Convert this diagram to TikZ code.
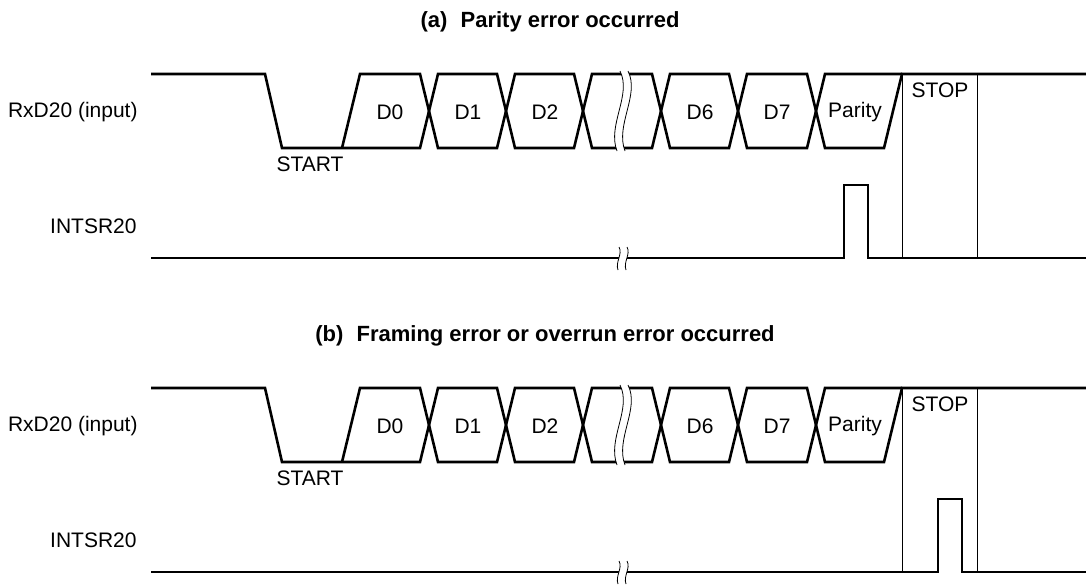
\documentclass[tikz,border=0pt]{standalone}
\usepackage{fontspec}
\setmainfont{Liberation Sans}

\begin{document}
\begin{tikzpicture}[x=0.5pt, y=-0.5pt,
      sig/.style={line width=1.3pt},
      thn/.style={line width=0.5pt},
      brk/.style={line width=0.4pt},
      lbl/.style={font=\fontsize{10.5}{12}\selectfont, inner sep=0pt},
      ttl/.style={font=\fontsize{11}{13}\selectfont\bfseries, inner sep=0pt}]
  \useasboundingbox (0,0) rectangle (1086,584);

  % (a) parity error
  \node[ttl] (ta) at (550,22) {(a)\hspace{0.6em}Parity error occurred};
  \node[lbl, anchor=east] (rxa)  at (138,112) {RxD20 (input)};
  \node[lbl, anchor=east] (inta) at (137,226) {INTSR20};
  \node[lbl] (sta) at (310,164) {START};
  \node[lbl] (spa) at (940,90)  {STOP};
  \node[lbl] (d0a) at (390,112) {D0};
  \node[lbl] (d1a) at (468,112) {D1};
  \node[lbl] (d2a) at (545,112) {D2};
  \node[lbl] (d6a) at (700,112) {D6};
  \node[lbl] (d7a) at (777,112) {D7};
  \node[lbl] (pya) at (855,112) {Parity};
  \draw[sig] (151,74) -- (265,74) -- (282,148) -- (420,148) -- (438,74) -- (497,74) -- (515,148)
    -- (574,148) -- (592,74) -- (652,74) -- (670,148) -- (729,148) -- (747,74) -- (807,74)
    -- (825,148) -- (884,148) -- (902,74) -- (1086,74);
  \draw[sig] (342,148) -- (360,74) -- (420,74) -- (438,148) -- (497,148) -- (515,74) -- (574,74)
    -- (592,148) -- (652,148) -- (670,74) -- (729,74) -- (747,148) -- (807,148) -- (825,74) -- (902,74);
  \fill[white] (620,71) .. controls (632,95) and (607,125) .. (617,151) -- (625,151)
    .. controls (615,125) and (640,95) .. (628,71) -- cycle;
  \draw[brk] (620,71) .. controls (632,95) and (607,125) .. (617,151);
  \draw[brk] (628,71) .. controls (640,95) and (615,125) .. (625,151);
  \draw[thn] (902,74) -- (902,258);
  \draw[thn] (977,74) -- (977,258);
  \draw[sig] (151,258) -- (844,258) -- (844,185) -- (868,185) -- (868,258) -- (1086,258);
  \fill[white] (619,247) .. controls (623,254) and (615,262) .. (618,270) -- (626,270)
    .. controls (623,262) and (631,254) .. (627,247) -- cycle;
  \draw[brk] (619,247) .. controls (623,254) and (615,262) .. (618,270);
  \draw[brk] (627,247) .. controls (631,254) and (623,262) .. (626,270);

  % (b) framing / overrun error
  \begin{scope}[shift={(0,314)}]
  \node[ttl] (tb) at (545,22) {(b)\hspace{0.6em}Framing error or overrun error occurred};
  \node[lbl, anchor=east] (rxb)  at (138,112) {RxD20 (input)};
  \node[lbl, anchor=east] (intb) at (137,226) {INTSR20};
  \node[lbl] (stb) at (310,164) {START};
  \node[lbl] (spb) at (940,90)  {STOP};
  \node[lbl] (d0b) at (390,112) {D0};
  \node[lbl] (d1b) at (468,112) {D1};
  \node[lbl] (d2b) at (545,112) {D2};
  \node[lbl] (d6b) at (700,112) {D6};
  \node[lbl] (d7b) at (777,112) {D7};
  \node[lbl] (pyb) at (855,112) {Parity};
  \draw[sig] (151,74) -- (265,74) -- (282,148) -- (420,148) -- (438,74) -- (497,74) -- (515,148)
    -- (574,148) -- (592,74) -- (652,74) -- (670,148) -- (729,148) -- (747,74) -- (807,74)
    -- (825,148) -- (884,148) -- (902,74) -- (1086,74);
  \draw[sig] (342,148) -- (360,74) -- (420,74) -- (438,148) -- (497,148) -- (515,74) -- (574,74)
    -- (592,148) -- (652,148) -- (670,74) -- (729,74) -- (747,148) -- (807,148) -- (825,74) -- (902,74);
  \fill[white] (620,71) .. controls (632,95) and (607,125) .. (617,151) -- (625,151)
    .. controls (615,125) and (640,95) .. (628,71) -- cycle;
  \draw[brk] (620,71) .. controls (632,95) and (607,125) .. (617,151);
  \draw[brk] (628,71) .. controls (640,95) and (615,125) .. (625,151);
  \draw[thn] (902,74) -- (902,258);
  \draw[thn] (977,74) -- (977,258);
  \draw[sig] (151,258) -- (938,258) -- (938,185) -- (962,185) -- (962,258) -- (1086,258);
  \fill[white] (619,247) .. controls (623,254) and (615,262) .. (618,270) -- (626,270)
    .. controls (623,262) and (631,254) .. (627,247) -- cycle;
  \draw[brk] (619,247) .. controls (623,254) and (615,262) .. (618,270);
  \draw[brk] (627,247) .. controls (631,254) and (623,262) .. (626,270);
  \end{scope}
\end{tikzpicture}
\end{document}
